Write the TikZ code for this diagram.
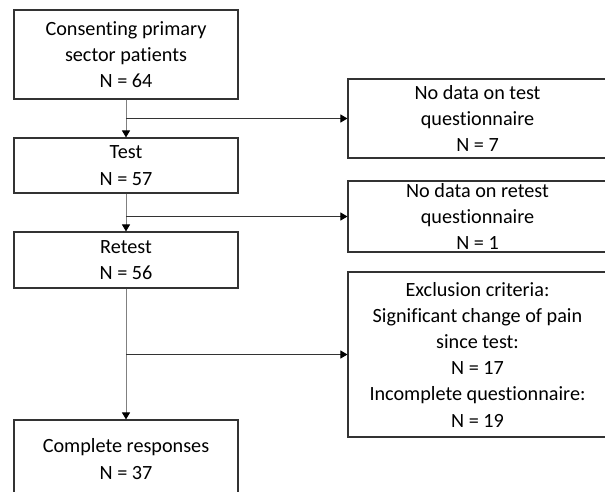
\documentclass[tikz,border=0pt]{standalone}
\usepackage{fontspec}
\setmainfont{Carlito}[Ligatures=NoCommon]
\usetikzlibrary{arrows.meta}
\tikzset{
  box/.style={draw=black!80, line width=1.1pt, align=center, inner sep=0pt,
    font=\fontsize{20.2}{26.2}\selectfont},
  flow/.style={line width=1pt, color=black!50, -{Triangle[length=7pt,width=8pt,black]}},
  side/.style={line width=1pt, color=black!80, -{Triangle[length=7pt,width=8pt,black]}}
}
\begin{document}
\begin{tikzpicture}[x=1pt,y=-1pt]
		%%%%% START %%%%%
		\useasboundingbox (0,0) rectangle (605,491);
		\clip (0,0) rectangle (605,491);
		
		\node[box, minimum width=224pt, minimum height=89pt] (consent) at (126,54.5) {Consenting primary\\sector patients\\N = 64};
		\node[box, minimum width=224pt, minimum height=55pt] (test) at (126,165.5) {Test\\N = 57};
		\node[box, minimum width=224pt, minimum height=56pt] (retest) at (126,260) {Retest\\N = 56};
		\node[box, minimum width=224pt, minimum height=78pt] (complete) at (126,459) {Complete responses\\N = 37};
		
		\node[box, minimum width=259pt, minimum height=79pt] (notest) at (477.5,118.5) {No data on test\\questionnaire\\N = 7};
		\node[box, minimum width=259pt, minimum height=71pt] (noretest) at (477.5,216.5) {No data on retest\\questionnaire\\N = 1};
		\node[box, minimum width=259pt, minimum height=165pt] (excl) at (477.5,354.5) {Exclusion criteria:\\Significant change of pain\\since test:\\N = 17\\Incomplete questionnaire:\\N = 19};
		
		\draw[flow] (consent.south) -- (test.north);
		\draw[flow] (test.south) -- (retest.north);
		\draw[flow] (retest.south) -- (complete.north);
		
		\draw[side] (consent.south |- notest.west) -- (notest.west);
		\draw[side] (test.south |- noretest.west) -- (noretest.west);
		\draw[side] (retest.south |- excl.west) -- (excl.west);
		
		%%%%% END %%%%%
\end{tikzpicture}
\end{document}
